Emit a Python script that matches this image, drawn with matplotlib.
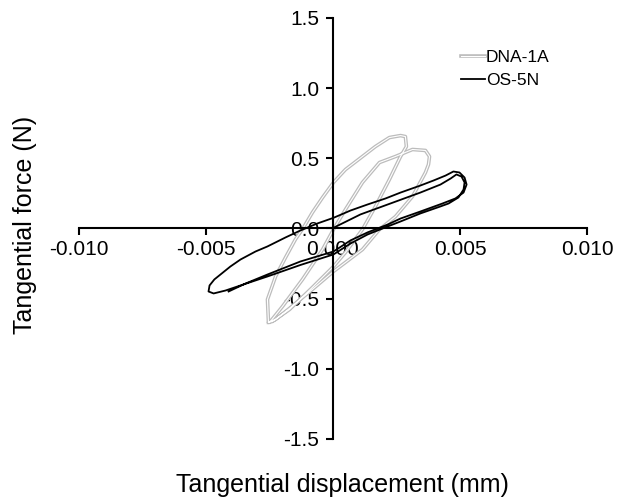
import matplotlib
matplotlib.use("Agg")
import matplotlib.pyplot as plt
import matplotlib.patheffects as pe

plt.rcParams['font.family'] = ['Liberation Sans', 'DejaVu Sans']

# Tangential displacement (mm) and force (N) for the two specimens
dna_disp_cycle1 = [-0.00254, -0.00258, -0.00226, -0.00187, -0.00148, -0.00116, -0.00081,
                   -0.00041, 0.00002, 0.00049, 0.00116, 0.00167, 0.00222, 0.00266,
                   0.00285, 0.00289, 0.00266, 0.00222, 0.00167, 0.00116, 0.00049,
                   0.00002, -0.00081, -0.00171, -0.00238, -0.00254]
dna_force_cycle1 = [-0.669, -0.506, -0.342, -0.207, -0.078, 0.007, 0.114,
                    0.221, 0.328, 0.420, 0.513, 0.584, 0.648, 0.662,
                    0.655, 0.584, 0.513, 0.349, 0.157, -0.007, -0.171,
                    -0.271, -0.420, -0.577, -0.662, -0.669]

dna_disp_cycle2 = [-0.00246, -0.00199, -0.00120, -0.00041, 0.00002, 0.00049, 0.00116,
                   0.00183, 0.00246, 0.00313, 0.00364, 0.00380, 0.00376, 0.00364,
                   0.00313, 0.00246, 0.00183, 0.00116, 0.00049, 0.00002, -0.00081,
                   -0.00167, -0.00226, -0.00246]
dna_force_cycle2 = [-0.662, -0.556, -0.363, -0.150, -0.007, 0.135, 0.328,
                    0.470, 0.513, 0.563, 0.556, 0.513, 0.456, 0.399,
                    0.228, 0.085, -0.007, -0.150, -0.242, -0.306, -0.434,
                    -0.563, -0.648, -0.662]

os_disp = [0.00002, 0.00108, 0.00226, 0.00344, 0.00423, 0.00463, 0.00486, 0.00506,
           0.00518, 0.00514, 0.00494, 0.00455, 0.00423, 0.00344, 0.00266, 0.00215,
           0.00136, 0.00069, 0.00002, -0.00128, -0.00258, -0.00364, -0.00423,
           -0.00470, -0.00490, -0.00486, -0.00467, -0.00443, -0.00404, -0.00364,
           -0.00305, -0.00258, -0.00187, -0.00128, -0.00061, 0.00002, 0.00069,
           0.00136, 0.00207, 0.00266, 0.00344, 0.00396, 0.00443, 0.00474, 0.00498,
           0.00518, 0.00526, 0.00514, 0.00482, 0.00431, 0.00344, 0.00266, 0.00215,
           0.00136, 0.00069, 0.00002, -0.00128, -0.00258, -0.00344, -0.00411]
os_force = [0.005, 0.100, 0.178, 0.256, 0.313, 0.356, 0.385, 0.370,
            0.328, 0.278, 0.221, 0.178, 0.157, 0.107, 0.050, 0.014,
            -0.043, -0.107, -0.185, -0.260, -0.342, -0.406, -0.442,
            -0.463, -0.449, -0.406, -0.363, -0.328, -0.271, -0.221,
            -0.164, -0.128, -0.064, -0.014, 0.036, 0.076, 0.128,
            0.171, 0.214, 0.256, 0.306, 0.342, 0.377, 0.406, 0.399,
            0.363, 0.313, 0.256, 0.214, 0.178, 0.121, 0.071, 0.028,
            -0.028, -0.085, -0.164, -0.235, -0.328, -0.392, -0.449]

x_ticks = [-0.010, -0.005, 0.000, 0.005, 0.010]
x_tick_labels = ['-0.010', '-0.005', '0.000', '0.005', '0.010']
y_ticks = [-1.5, -1.0, -0.5, 0.0, 0.5, 1.0, 1.5]
y_tick_labels = ['-1.5', '-1.0', '-0.5', '0.0', '0.5', '1.0', '1.5']

fig = plt.figure(figsize=(6.19, 5.01), dpi=100)
ax = fig.add_axes([0.1276, 0.1238, 0.8207, 0.8403])

hollow = [pe.Stroke(linewidth=2.6, foreground='#bcbcbc'), pe.Normal()]
ax.plot(dna_disp_cycle1 + dna_disp_cycle2, dna_force_cycle1 + dna_force_cycle2,
        color='white', lw=0.8, path_effects=hollow, label='DNA-1A', zorder=2)
ax.plot(os_disp, os_force, color='black', lw=1.3, label='OS-5N', zorder=3)

ax.set_xlim(-0.010, 0.010)
ax.set_ylim(-1.5, 1.5)

for side in ('top', 'right'):
    ax.spines[side].set_visible(False)
for side in ('left', 'bottom'):
    ax.spines[side].set_position('zero')
    ax.spines[side].set_linewidth(1.5)

ax.set_xticks(x_ticks)
ax.set_xticklabels(x_tick_labels)
ax.set_yticks(y_ticks)
ax.set_yticklabels(y_tick_labels)
ax.tick_params(direction='out', length=5, width=1.5, labelsize=15, colors='black')
ax.tick_params(axis='x', pad=3)
ax.tick_params(axis='y', pad=5)

fig.text(0.554, 0.032, 'Tangential displacement (mm)', ha='center', va='center', fontsize=18)
fig.text(0.040, 0.551, 'Tangential force (N)', ha='center', va='center',
         rotation=90, fontsize=18)

leg = ax.legend(loc='upper left', bbox_to_anchor=(0.725, 0.925), bbox_transform=fig.transFigure,
                frameon=False, fontsize=12.5, handlelength=1.4, handletextpad=0.05,
                labelspacing=0.45, borderpad=0.2)

fig.savefig('out.png', dpi=100)
